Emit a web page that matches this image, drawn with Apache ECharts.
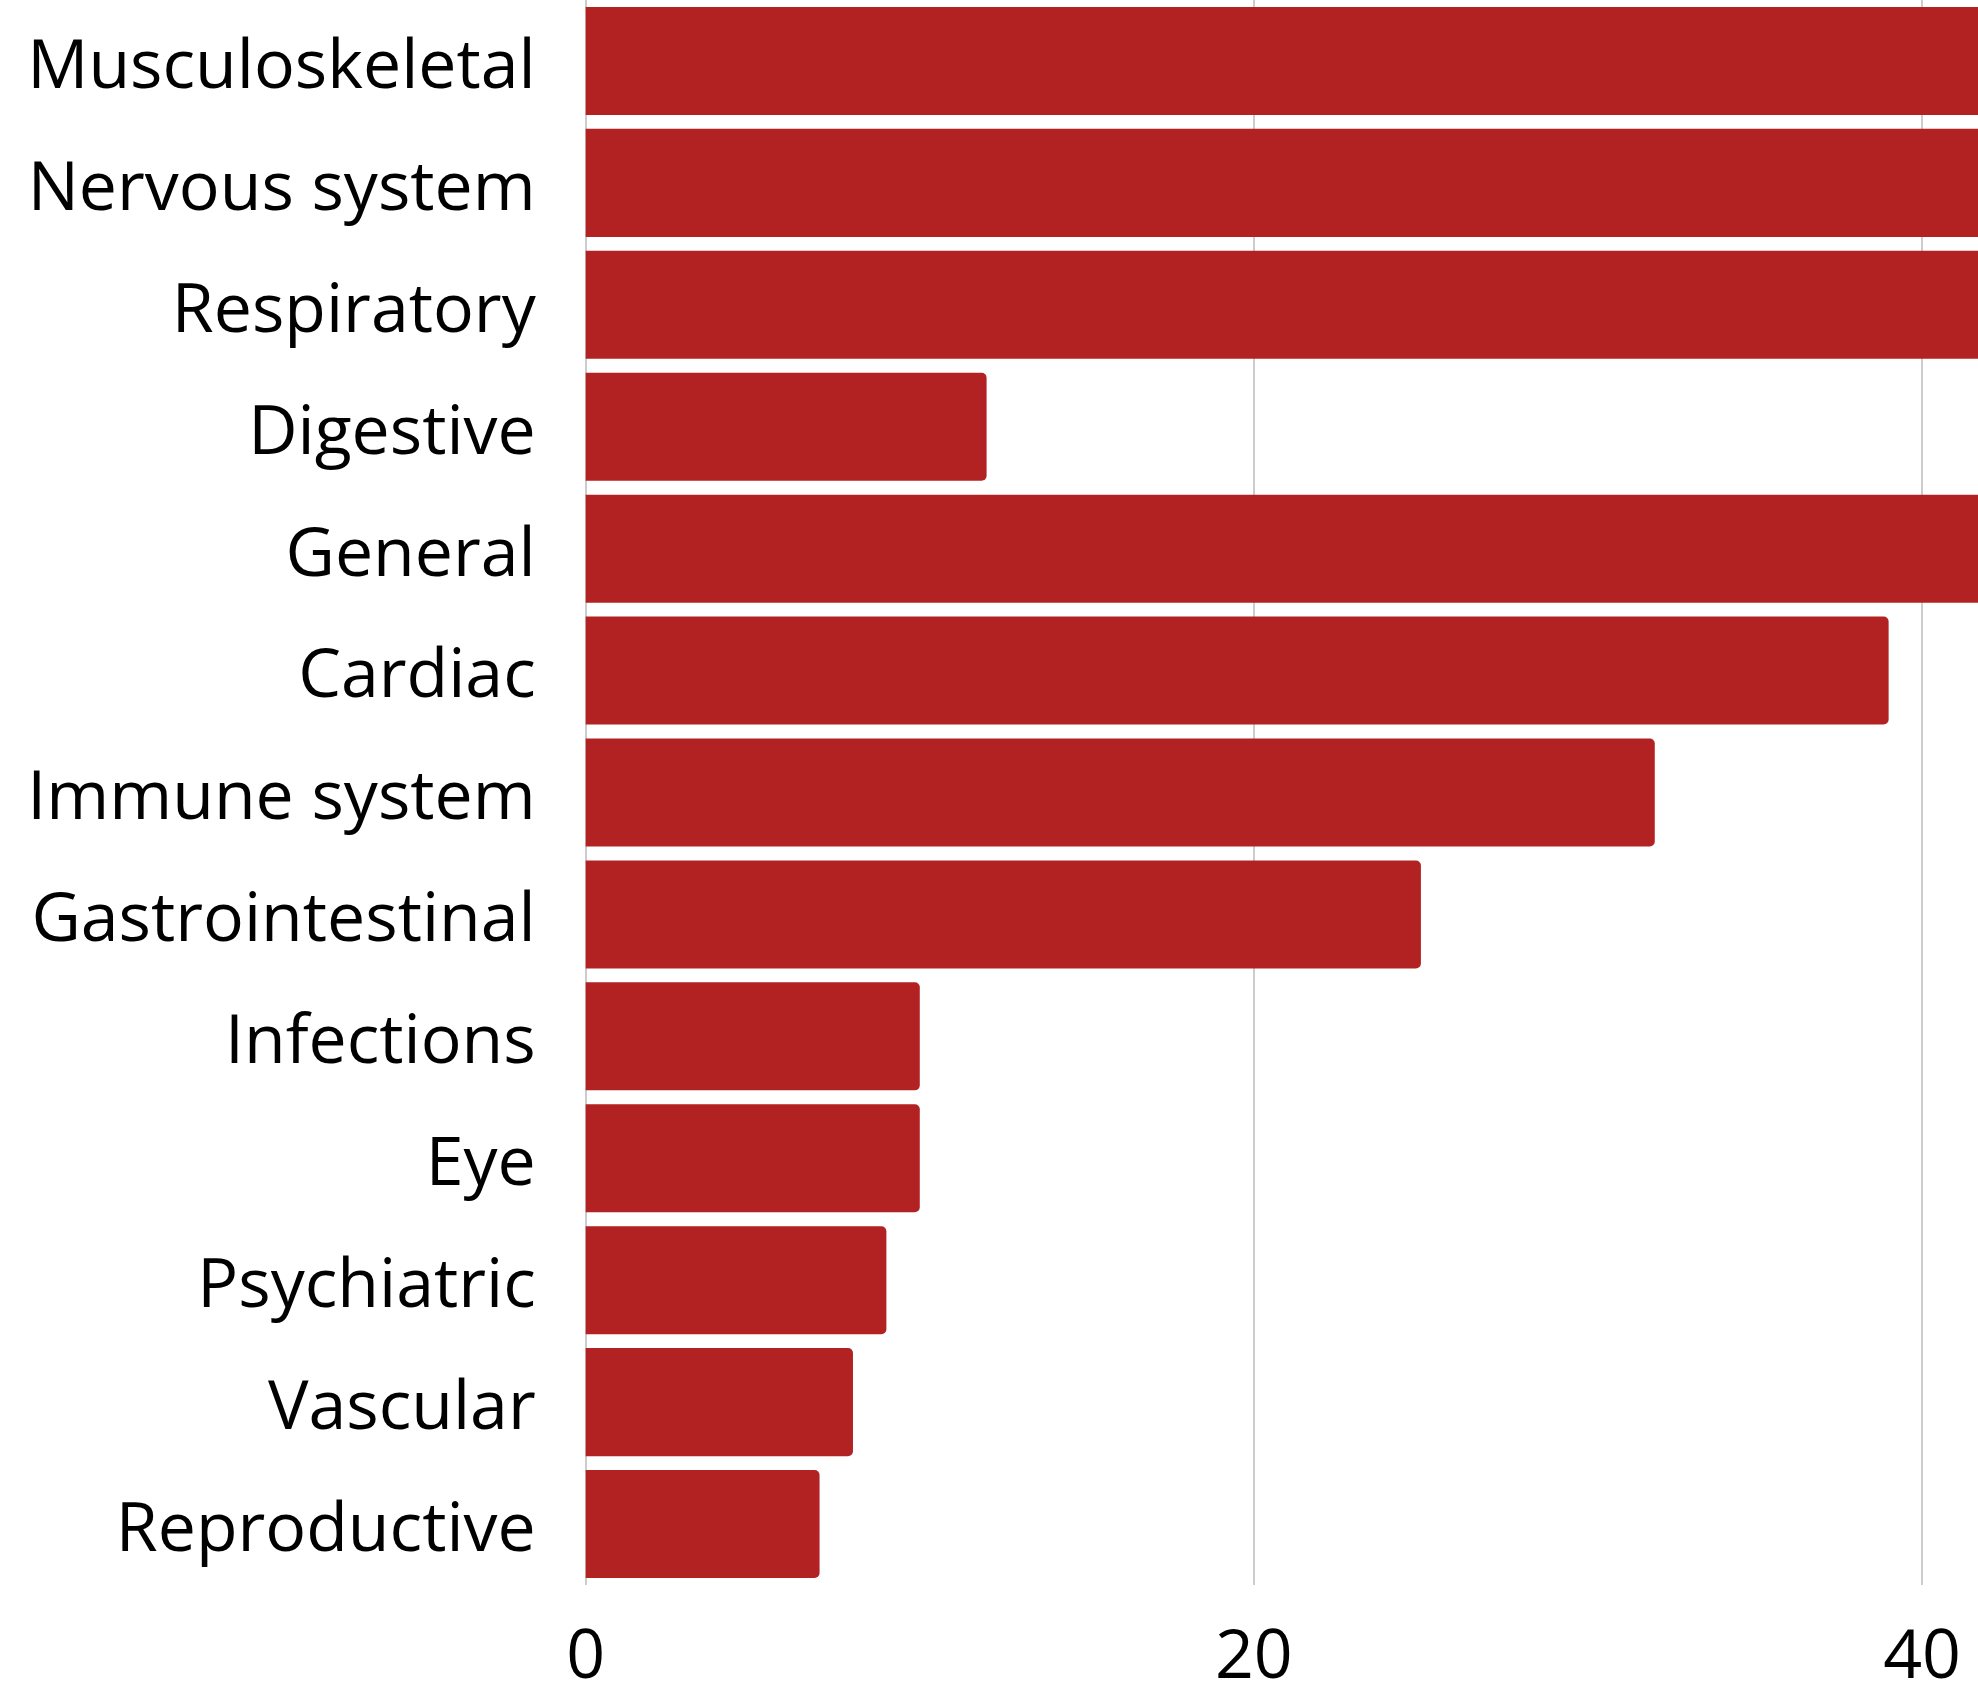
<!DOCTYPE html>
<html>
<head>
<meta charset="utf-8">
<script src="https://cdn.jsdelivr.net/npm/echarts@6/dist/echarts.min.js"></script>
<style>
  html, body { margin: 0; padding: 0; overflow: hidden; background: #fff; }
  #main { width: 2600px; height: 1697px; }
</style>
</head>
<body>
<div id="main"></div>
<script>
// categories top -> bottom
const categories = [
  'Musculoskeletal', 'Nervous system', 'Respiratory', 'Digestive', 'General',
  'Cardiac', 'Immune system', 'Gastrointestinal', 'Infections', 'Eye',
  'Psychiatric', 'Vascular', 'Reproductive'
]
// the first few run off the right edge of the picture, so those are guesses
const counts = [70, 66, 58, 12, 50, 39, 32, 25, 10, 10, 9, 8, 7]
const xTicks = [0, 20, 40, 60]

const chart = echarts.init(document.getElementById('main'))

const option = {
  animation: false,
  textStyle: { fontFamily: 'Open Sans' },
  grid: {
    left: 585.7,
    right: 9.8,
    top: 0,
    bottom: 112,
    containLabel: false,
    outerBoundsMode: 'none'
  },
  xAxis: {
    type: 'value',
    min: xTicks[0],
    max: xTicks[xTicks.length - 1],
    interval: 20,
    axisLine: { show: false },
    axisTick: { show: false },
    axisLabel: {
      color: '#000',
      fontSize: 68,
      fontFamily: 'Open Sans',
      margin: 40
    },
    splitLine: {
      lineStyle: { color: '#cccccc', width: 2 }
    }
  },
  yAxis: {
    type: 'category',
    inverse: true,
    data: categories,
    axisLine: { show: false },
    axisTick: { show: false },
    axisLabel: {
      color: '#000',
      fontSize: 68,
      fontFamily: 'Open Sans',
      margin: 50,
      // nudges the text a little below the band centre, as in the source
      verticalAlign: 'top',
      lineHeight: 15
    },
    splitLine: { show: false }
  },
  series: [
    {
      type: 'bar',
      data: counts,
      barCategoryGap: '11.4%',
      itemStyle: {
        color: '#b22222',
        borderRadius: [0, 5, 5, 0]
      }
    }
  ]
}

chart.setOption(option)
</script>
</body>
</html>
